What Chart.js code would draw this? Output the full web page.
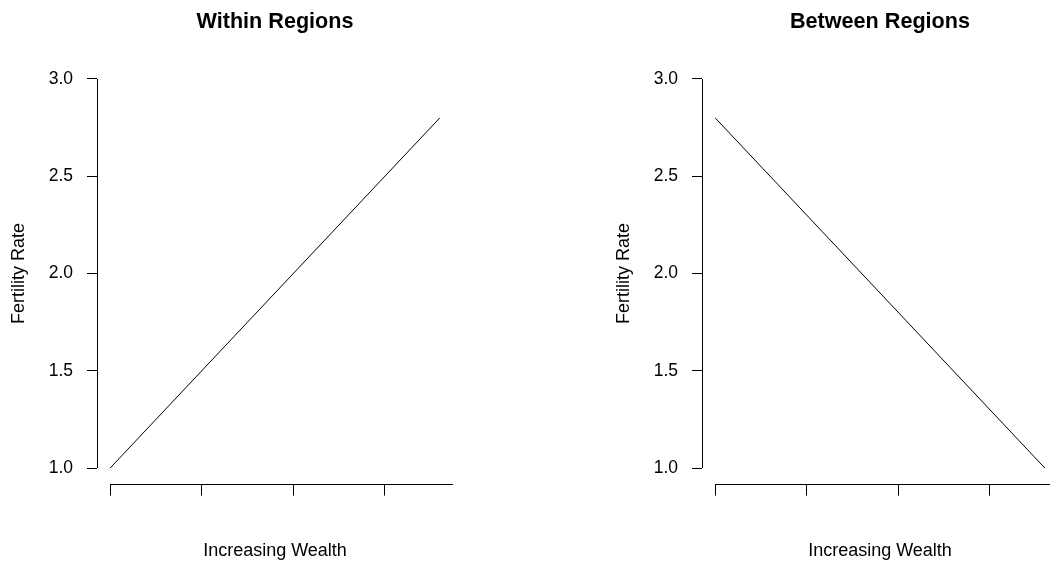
<!DOCTYPE html>
<html>
<head>
<meta charset="utf-8">
<script src="https://cdn.jsdelivr.net/npm/chart.js@4"></script>
<style>
  html, body { margin: 0; padding: 0; background: #fff; overflow: hidden; }
  body { width: 1050px; height: 566px; position: relative; }
  .panel { position: absolute; top: 0; width: 605px; height: 566px; }
  #within { left: 0; }
  #between { left: 605px; }
</style>
</head>
<body>
<div class="panel" id="within"><canvas id="withinChart" width="605" height="566"></canvas></div>
<div class="panel" id="between"><canvas id="betweenChart" width="605" height="566"></canvas></div>
<script>
// data
const wealth = [1.0, 2.8];
const withinFertility = [1.0, 2.8];
const betweenFertility = [2.8, 1.0];
const yTicks = [1.0, 1.5, 2.0, 2.5, 3.0];
const xTicks = [1.0, 1.5, 2.0, 2.5];
const titles = ["Within Regions", "Between Regions"];

const FONT = '"Liberation Sans", Arial, Helvetica, sans-serif';

// R-style axis lines: y from first to last tick, x from first tick to plot edge
const rAxes = {
    id: "rAxes",
    afterDraw(chart) {
        const ctx = chart.ctx;
        const area = chart.chartArea;
        const x = chart.scales.x;
        const y = chart.scales.y;
        ctx.save();
        ctx.strokeStyle = "#000";
        ctx.lineWidth = 1;
        ctx.beginPath();
        const lx = Math.round(area.left) + 0.5;
        ctx.moveTo(lx, y.getPixelForValue(yTicks[0]));
        ctx.lineTo(lx, y.getPixelForValue(yTicks[yTicks.length - 1]));
        const by = Math.round(area.bottom) + 0.5;
        ctx.moveTo(x.getPixelForValue(xTicks[0]), by);
        ctx.lineTo(area.right, by);
        ctx.stroke();
        ctx.restore();
    }
};

function makePanel(canvasId, title, values) {
    const canvas = document.getElementById(canvasId);
    return new Chart(canvas, {
        type: "line",
        data: {
            datasets: [
                {
                    data: wealth.map((w, i) => ({ x: w, y: values[i] })),
                    borderColor: "#000",
                    borderWidth: 1,
                    pointRadius: 0,
                    fill: false,
                    tension: 0,
                },
            ],
        },
        options: {
            responsive: false,
            animation: false,
            events: [],
            layout: { padding: { left: 0, right: 152, top: 0, bottom: 0 } },
            plugins: {
                legend: { display: false },
                tooltip: { enabled: false },
                title: {
                    display: true,
                    text: title,
                    fullSize: false,
                    color: "#000",
                    font: { family: FONT, size: 21.6, weight: "bold" },
                    padding: { top: 9, bottom: 28.5 },
                },
            },
            scales: {
                x: {
                    type: "linear",
                    min: 0.928,
                    max: 2.872,
                    afterBuildTicks: (s) => { s.ticks = xTicks.map((v) => ({ value: v })); },
                    afterFit: (s) => { s.height = 82.4; },
                    border: { display: false },
                    grid: { drawOnChartArea: false, drawTicks: true, tickLength: 12, color: "#000" },
                    ticks: { display: false },
                    title: {
                        display: true,
                        text: "Increasing Wealth",
                        color: "#000",
                        font: { family: FONT, size: 18 },
                        padding: { top: 0, bottom: 4.2 },
                    },
                },
                y: {
                    type: "linear",
                    min: 0.92,
                    max: 3.08,
                    afterBuildTicks: (s) => { s.ticks = yTicks.map((v) => ({ value: v })); },
                    afterFit: (s) => { s.width = 97; },
                    border: { display: false },
                    grid: { drawOnChartArea: false, drawTicks: true, tickLength: 10, color: "#000" },
                    ticks: {
                        color: "#000",
                        padding: 14,
                        font: { family: FONT, size: 17.5 },
                        callback: (v) => Number(v).toFixed(1),
                    },
                    title: {
                        display: true,
                        text: "Fertility Rate",
                        color: "#000",
                        font: { family: FONT, size: 18 },
                        padding: { top: 8.7, bottom: 0 },
                    },
                },
            },
        },
        plugins: [rAxes],
    });
}

makePanel("withinChart", titles[0], withinFertility);
makePanel("betweenChart", titles[1], betweenFertility);
</script>
</body>
</html>
